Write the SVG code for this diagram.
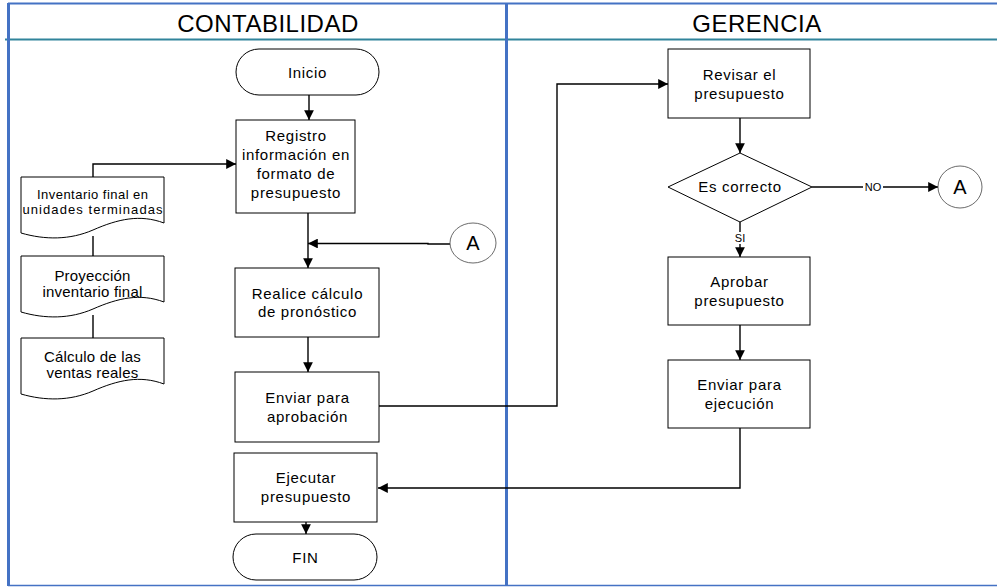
<svg xmlns="http://www.w3.org/2000/svg" width="997" height="587" viewBox="0 0 997 587">
  <style>
    .box { fill: #ffffff; stroke: #000000; stroke-width: 1; }
    .conn { fill: none; stroke: #000000; stroke-width: 1.4; }
    .circ { fill: #ffffff; stroke: #444444; stroke-width: 0.8; }
    text { font-family: "Liberation Sans", Arial, sans-serif; fill: #000000; text-anchor: middle; }
    .t { font-size: 15px; letter-spacing: 0.7px; }
    .d { font-size: 15px; letter-spacing: 0.2px; }
    .d1 { font-size: 13px; }
    .h { font-size: 24px; letter-spacing: 0.5px; }
    .s { font-size: 11px; }
    .c { font-size: 20px; }
  </style>
  <defs>
    <marker id="arrow" viewBox="0 0 10 10" refX="10" refY="5" markerWidth="7" markerHeight="7" markerUnits="strokeWidth" orient="auto">
      <path d="M0,0 L10,5 L0,10 Z" fill="#000000"/>
    </marker>
  </defs>

  <rect width="997" height="587" fill="#ffffff"/>

  <!-- swimlane frame -->
  <g id="lanes">
    <line x1="8" y1="3.5" x2="997" y2="3.5" stroke="#4472C4" stroke-width="2"/>
    <line x1="5" y1="39.5" x2="997" y2="39.5" stroke="#31849B" stroke-width="2"/>
    <line x1="8.5" y1="3" x2="8.5" y2="586" stroke="#4472C4" stroke-width="3"/>
    <line x1="506.5" y1="3" x2="506.5" y2="586" stroke="#4472C4" stroke-width="3"/>
    <line x1="8" y1="585.5" x2="997" y2="585.5" stroke="#4472C4" stroke-width="1.5"/>
    <text class="h" x="268" y="32">CONTABILIDAD</text>
    <text class="h" x="757" y="32">GERENCIA</text>
  </g>

  <!-- connectors -->
  <g id="connectors">
    <line class="conn" x1="309" y1="95" x2="309" y2="120" marker-end="url(#arrow)"/>
    <polyline class="conn" points="93,177 93,164 236,164" marker-end="url(#arrow)"/>
    <line class="conn" x1="93" y1="236" x2="93" y2="256"/>
    <line class="conn" x1="93" y1="315" x2="93" y2="338"/>
    <line class="conn" x1="308" y1="213" x2="308" y2="268" marker-end="url(#arrow)"/>
    <polyline class="conn" points="450,244 428,244 428,243.5 308,243.5" marker-end="url(#arrow)"/>
    <line class="conn" x1="308" y1="337" x2="308" y2="372" marker-end="url(#arrow)"/>
    <polyline class="conn" points="379,406 557,406 557,84 668,84" marker-end="url(#arrow)"/>
    <line class="conn" x1="740" y1="118" x2="740" y2="153" marker-end="url(#arrow)"/>
    <line class="conn" x1="812" y1="187" x2="938" y2="187" marker-end="url(#arrow)"/>
    <line class="conn" x1="740" y1="222" x2="740" y2="257" marker-end="url(#arrow)"/>
    <line class="conn" x1="740" y1="325" x2="740" y2="360" marker-end="url(#arrow)"/>
    <polyline class="conn" points="740,428 740,488 378,488" marker-end="url(#arrow)"/>
    <line class="conn" x1="306" y1="522" x2="306" y2="534" marker-end="url(#arrow)"/>
    <rect x="863" y="181" width="20" height="12" fill="#ffffff"/>
    <text class="s" x="873" y="191">NO</text>
    <rect x="733" y="232" width="14" height="12" fill="#ffffff"/>
    <text class="s" x="740" y="242">SI</text>
  </g>

  <!-- contabilidad -->
  <g id="inicio">
    <rect class="box" x="236" y="49" width="143" height="46" rx="23" ry="23"/>
    <text class="t" x="307.5" y="78">Inicio</text>
  </g>
  <g id="registro">
    <rect class="box" x="236" y="120" width="119" height="93"/>
    <text class="t" x="296" y="141">Registro</text>
    <text class="t" x="296" y="160">información en</text>
    <text class="t" x="296" y="179">formato de</text>
    <text class="t" x="296" y="198">presupuesto</text>
  </g>
  <g id="doc-inventario">
    <path class="box" d="M21,177 H164 V223 C140,214 118,219 93,230 C70,240 45,240 21,233 Z"/>
    <text class="d1" x="92.5" y="199" textLength="111" lengthAdjust="spacing">Inventario final en</text>
    <text class="d1" x="92.5" y="214" textLength="140" lengthAdjust="spacing">unidades terminadas</text>
  </g>
  <g id="doc-proyeccion">
    <path class="box" d="M21,256 H164 V302 C140,293 118,298 93,309 C70,319 45,319 21,312 Z"/>
    <text class="d" x="92.5" y="281">Proyección</text>
    <text class="d" x="92.5" y="297">inventario final</text>
  </g>
  <g id="doc-ventas">
    <path class="box" d="M21,338 H164 V384 C140,375 118,380 93,391 C70,401 45,401 21,394 Z"/>
    <text class="d" x="92.5" y="362">Cálculo de las</text>
    <text class="d" x="92.5" y="378">ventas reales</text>
  </g>
  <g id="conector-a-entrada">
    <ellipse class="circ" cx="473" cy="243" rx="23" ry="20"/>
    <text class="c" x="473" y="250">A</text>
  </g>
  <g id="pronostico">
    <rect class="box" x="235" y="268" width="144" height="69"/>
    <text class="t" x="307.5" y="299">Realice cálculo</text>
    <text class="t" x="307.5" y="317">de pronóstico</text>
  </g>
  <g id="enviar-aprobacion">
    <rect class="box" x="235" y="372" width="144" height="70"/>
    <text class="t" x="307.5" y="403">Enviar para</text>
    <text class="t" x="307.5" y="422">aprobación</text>
  </g>
  <g id="ejecutar">
    <rect class="box" x="234" y="453" width="143" height="69"/>
    <text class="t" x="306" y="483">Ejecutar</text>
    <text class="t" x="306" y="502">presupuesto</text>
  </g>
  <g id="fin">
    <rect class="box" x="233" y="534" width="144" height="46" rx="23" ry="23"/>
    <text class="t" x="305.5" y="563">FIN</text>
  </g>

  <!-- gerencia -->
  <g id="revisar">
    <rect class="box" x="668" y="49" width="142" height="69"/>
    <text class="t" x="739.5" y="80">Revisar el</text>
    <text class="t" x="739.5" y="99">presupuesto</text>
  </g>
  <g id="es-correcto">
    <polygon class="box" points="740,153 812,187 740,222 668,187"/>
    <text class="t" x="740" y="192">Es correcto</text>
  </g>
  <g id="conector-a-salida">
    <ellipse class="circ" cx="960" cy="187" rx="22" ry="21"/>
    <text class="c" x="960" y="194">A</text>
  </g>
  <g id="aprobar">
    <rect class="box" x="668" y="257" width="142" height="68"/>
    <text class="t" x="739.5" y="287">Aprobar</text>
    <text class="t" x="739.5" y="306">presupuesto</text>
  </g>
  <g id="enviar-ejecucion">
    <rect class="box" x="668" y="360" width="142" height="68"/>
    <text class="t" x="739.5" y="390">Enviar para</text>
    <text class="t" x="739.5" y="409">ejecución</text>
  </g>
</svg>
